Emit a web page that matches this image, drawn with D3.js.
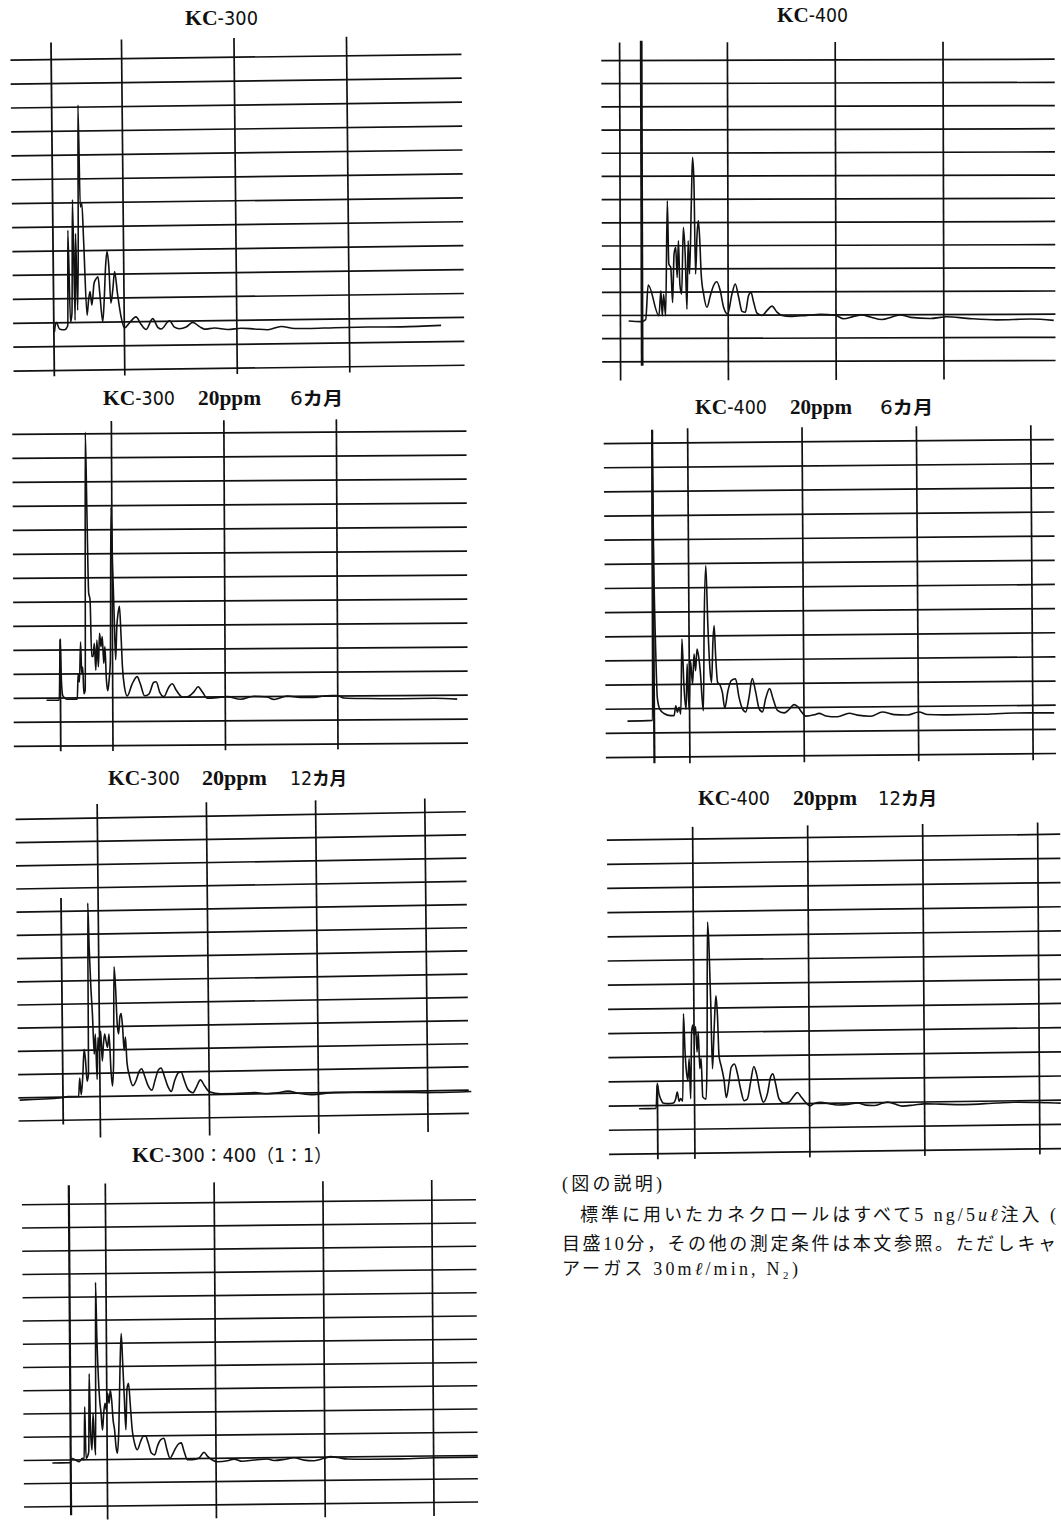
<!DOCTYPE html>
<html><head><meta charset="utf-8">
<script src="https://cdn.jsdelivr.net/npm/d3@7"></script>
<style>html,body{margin:0;padding:0;background:#fff}svg{display:block}</style>
</head><body>
<svg id="chart" width="1061" height="1520"></svg>
<script>
// ---------------- DATA ----------------
const gridDivisions = d3.range(0, 14);          // chart-paper divisions (0 = bottom line)
const gridMinutes = [0, 10, 20, 30];            // chart-paper time lines (10 min per division)
const injectMin = [3.78, 2.05, 5.4, -3.06, -3.35, -3.18, -3.31];   // injection mark (min)
const injectTop = [13.7, 13.83, 4.42, 13.53, 9.56, 2.8, 13.79];     // injection signal height (div)

const titleParts = [
  ["KC-300"],
  ["KC-400"],
  ["KC-300", "20ppm", "6カ月"],
  ["KC-400", "20ppm", "6カ月"],
  ["KC-300", "20ppm", "12カ月"],
  ["KC-400", "20ppm", "12カ月"],
  ["KC-300：400（1：1）"]
];

// traces: [minutes, divisions]
const traceKC300 = [[3.83,1.6],[3.99,2.0],[4.28,1.72],[4.72,1.68],[5.02,1.86],[5.11,5.84],[5.26,2.0],[5.4,2.35],[5.55,7.12],[5.67,2.07],[5.79,5.7],[5.91,2.49],[6.03,5.7],[6.12,11.07],[6.23,6.81],[6.38,6.95],[6.5,5.42],[6.74,2.28],[6.89,2.91],[7.03,3.26],[7.18,2.7],[7.39,3.6],[7.6,3.81],[7.75,3.88],[7.89,3.19],[8.13,2.0],[8.28,2.91],[8.43,4.3],[8.57,4.93],[8.72,4.3],[8.87,2.77],[9.05,3.32],[9.23,4.09],[9.46,3.18],[9.76,2.2],[10.06,1.72],[10.5,1.93],[11.09,2.18],[11.54,1.86],[11.98,1.65],[12.57,2.1],[13.02,1.73],[13.32,1.66],[14.06,2.0],[14.5,1.73],[14.94,1.66],[15.54,1.73],[16.13,1.92],[16.72,1.74],[17.17,1.63],[18.06,1.67],[19.24,1.6],[20.43,1.65],[21.61,1.61],[22.8,1.57],[23.98,1.7],[25.17,1.61],[26.35,1.6],[28.72,1.62],[31.69,1.63],[34.65,1.62],[38.2,1.66]];

const traceKC400 = [[0.81,1.74],[1.95,1.71],[2.39,1.8],[2.63,3.29],[3.62,1.96],[3.81,3.04],[3.93,1.96],[4.06,2.89],[4.24,1.96],[4.43,6.92],[4.55,4.19],[4.73,4.04],[4.89,2.53],[5.04,4.62],[5.2,4.91],[5.32,3.61],[5.45,5.19],[5.57,3.32],[5.73,2.89],[5.91,5.77],[6.07,4.62],[6.22,2.24],[6.35,5.19],[6.47,3.76],[6.66,6.92],[6.78,8.79],[6.9,7.78],[7.03,3.76],[7.18,5.48],[7.3,6.06],[7.43,5.19],[7.55,3.76],[7.77,2.89],[8.08,2.32],[8.39,2.82],[8.69,3.25],[9.0,3.42],[9.31,3.04],[9.62,2.32],[9.99,2.03],[10.4,2.89],[10.71,3.32],[11.02,2.75],[11.33,2.14],[11.63,2.1],[11.94,2.82],[12.16,2.96],[12.41,2.53],[12.72,2.06],[13.18,1.96],[13.64,2.17],[14.11,2.36],[14.57,2.1],[15.03,1.96],[15.81,1.91],[17.35,1.96],[18.59,2.0],[19.98,1.96],[20.75,1.81],[21.68,1.91],[22.45,1.97],[23.23,1.88],[24.31,1.77],[25.24,1.88],[26.01,1.97],[26.94,1.86],[28.8,1.81],[30.34,1.88],[32.2,1.81],[34.98,1.74],[38.07,1.77],[40.24,1.71]];

const trace300_6m = [[4.16,1.89],[5.29,1.89],[5.4,4.45],[5.49,2.7],[5.61,2.07],[6.0,1.93],[6.89,1.93],[6.98,2.98],[7.09,2.64],[7.21,4.31],[7.3,2.98],[7.39,3.26],[7.48,2.15],[7.6,2.29],[7.72,13.05],[7.83,9.7],[7.95,6.35],[8.07,6.07],[8.19,3.7],[8.31,3.7],[8.43,4.25],[8.55,3.13],[8.66,4.39],[8.78,3.27],[8.9,4.67],[9.02,4.11],[9.14,4.53],[9.26,3.41],[9.37,4.11],[9.49,2.72],[9.61,2.27],[9.73,2.72],[9.85,3.56],[9.97,9.92],[10.09,7.47],[10.2,5.51],[10.32,3.56],[10.44,4.95],[10.56,5.51],[10.68,5.79],[10.8,4.67],[10.92,3.27],[11.09,2.43],[11.33,2.05],[11.77,2.54],[12.22,2.85],[12.5,2.55],[12.87,2.05],[13.26,2.12],[13.7,2.61],[13.91,2.63],[14.23,2.19],[14.59,2.01],[15.03,2.4],[15.33,2.54],[15.71,2.26],[16.22,1.99],[16.66,1.99],[17.26,2.2],[17.64,2.41],[18.0,2.2],[18.44,1.93],[19.33,1.95],[20.22,1.99],[21.4,1.88],[22.59,2.0],[23.77,1.96],[24.37,1.86],[25.55,2.0],[26.74,1.93],[27.92,1.93],[29.1,2.0],[29.99,2.0],[30.59,1.9],[32.66,1.87],[35.63,1.85],[38.59,1.86],[40.66,1.82]];

const trace400_6m = [[-5.39,1.48],[-3.2,1.5],[-3.08,13.2],[-3.0,8.0],[-2.88,4.36],[-2.77,2.44],[-2.56,1.96],[-2.19,1.78],[-1.6,1.69],[-1.31,1.69],[-1.16,2.1],[-1.02,1.83],[-0.87,2.03],[-0.73,1.75],[-0.58,4.86],[-0.44,2.99],[-0.26,1.95],[-0.14,3.82],[0.0,1.95],[0.15,3.96],[0.32,2.99],[0.47,4.23],[0.59,3.54],[0.73,4.44],[0.88,4.09],[1.02,3.4],[1.14,2.43],[1.25,1.88],[1.37,5.47],[1.55,7.89],[1.69,5.47],[1.84,3.68],[1.98,3.05],[2.13,4.78],[2.24,5.4],[2.36,4.09],[2.51,3.05],[2.71,2.95],[2.92,2.63],[3.12,1.98],[3.41,2.7],[3.7,3.12],[4.08,3.19],[4.37,2.43],[4.66,1.95],[4.95,1.81],[5.25,2.43],[5.54,3.19],[5.83,2.64],[6.12,1.95],[6.41,1.81],[6.7,2.36],[7.05,2.77],[7.34,2.36],[7.72,1.87],[8.31,1.76],[8.74,1.9],[9.18,2.1],[9.53,2.0],[9.82,1.8],[10.2,1.62],[10.93,1.67],[11.36,1.73],[11.95,1.62],[12.97,1.58],[13.99,1.72],[14.71,1.64],[15.88,1.59],[16.9,1.76],[17.92,1.65],[19.09,1.63],[20.1,1.75],[20.83,1.64],[22.58,1.62],[25.5,1.63],[28.41,1.67],[31.91,1.66]];

const trace300_12m = [[-7.32,0.88],[-3.44,0.95],[-2.9,1.0],[-1.92,0.99],[-1.8,1.79],[-1.68,1.06],[-1.52,1.86],[-1.37,3.02],[-1.25,2.51],[-1.13,1.64],[-1.0,1.93],[-0.91,9.32],[-0.82,7.44],[-0.7,5.7],[-0.58,4.54],[-0.45,2.8],[-0.33,3.67],[-0.21,1.71],[-0.09,3.52],[0.03,2.94],[0.16,3.8],[0.28,2.5],[0.4,3.22],[0.52,3.66],[0.64,3.37],[0.77,3.08],[0.92,3.66],[1.07,2.07],[1.19,1.42],[1.32,2.51],[1.44,6.56],[1.56,5.69],[1.68,4.1],[1.8,3.66],[1.93,4.39],[2.05,4.53],[2.17,3.95],[2.29,2.94],[2.42,3.52],[2.54,2.43],[2.75,1.85],[3.06,1.42],[3.36,1.64],[3.66,2.04],[3.88,2.14],[4.12,1.86],[4.43,1.43],[4.8,1.21],[5.1,1.65],[5.41,2.08],[5.65,2.16],[5.96,1.79],[6.26,1.36],[6.57,1.14],[6.87,1.58],[7.24,1.94],[7.48,1.97],[7.79,1.58],[8.09,1.22],[8.55,1.07],[8.85,1.29],[9.25,1.62],[9.62,1.36],[10.07,1.1],[11.14,1.0],[12.37,1.0],[14.2,1.03],[15.42,0.97],[16.33,1.0],[17.25,1.07],[18.17,0.97],[19.39,0.9],[21.52,0.97],[24.57,0.95],[27.62,0.93],[30.68,0.9],[34.04,0.92]];

const trace400_12m = [[-4.78,1.85],[-3.3,1.86],[-3.19,2.9],[-3.04,2.45],[-2.9,2.25],[-2.69,2.08],[-2.26,2.05],[-1.8,2.07],[-1.59,2.25],[-1.45,2.52],[-1.3,2.14],[-1.16,2.25],[-0.98,2.14],[-0.87,5.76],[-0.75,4.17],[-0.64,3.35],[-0.52,3.0],[-0.4,3.9],[-0.29,2.24],[-0.17,5.0],[-0.06,5.28],[0.06,4.86],[0.18,5.21],[0.29,4.17],[0.41,5.0],[0.52,3.48],[0.64,3.9],[0.76,2.31],[1.05,2.21],[1.16,4.03],[1.28,9.54],[1.39,8.57],[1.51,6.23],[1.62,3.47],[1.74,4.55],[1.86,5.79],[1.97,6.48],[2.09,5.65],[2.2,4.0],[2.38,3.58],[2.61,3.03],[2.81,2.27],[3.05,2.89],[3.25,3.51],[3.54,3.65],[3.77,3.3],[4.06,2.61],[4.35,2.13],[4.64,2.2],[4.93,2.89],[5.22,3.54],[5.45,3.23],[5.74,2.48],[6.03,2.06],[6.38,2.4],[6.67,3.09],[6.87,3.23],[7.1,2.81],[7.39,2.19],[7.83,2.01],[8.26,2.05],[8.7,2.31],[8.99,2.44],[9.34,2.24],[9.71,2.02],[10.09,1.88],[10.44,1.98],[11.02,2.02],[11.74,1.96],[12.47,1.9],[13.34,1.92],[14.21,1.98],[14.93,1.88],[15.66,1.86],[16.38,1.95],[16.81,2.0],[17.39,1.92],[18.12,1.82],[19.13,1.86],[20.0,1.9],[21.45,1.88],[23.48,1.85],[26.38,1.9],[27.83,1.92],[30.73,1.88],[31.88,1.86]];

const traceMix = [[-5.0,1.86],[-3.37,1.86],[-3.19,2.04],[-2.85,1.97],[-2.54,1.9],[-2.24,2.04],[-2.08,1.97],[-1.99,4.26],[-1.9,2.04],[-1.72,2.18],[-1.65,2.33],[-1.56,5.68],[-1.47,3.25],[-1.35,2.4],[-1.23,3.97],[-1.1,2.68],[-1.01,2.18],[-0.92,9.61],[-0.83,7.25],[-0.74,5.82],[-0.61,4.54],[-0.49,3.97],[-0.37,3.25],[-0.25,3.97],[-0.12,4.4],[0.0,4.11],[0.12,4.83],[0.25,4.4],[0.37,4.97],[0.49,4.54],[0.61,3.68],[0.74,3.25],[0.86,2.54],[0.98,2.25],[1.13,3.25],[1.29,6.11],[1.41,7.39],[1.53,6.11],[1.65,4.68],[1.78,3.25],[1.9,4.97],[2.05,5.25],[2.21,4.25],[2.36,3.25],[2.57,2.67],[2.82,2.39],[3.12,2.74],[3.37,2.96],[3.58,2.98],[3.83,2.67],[4.11,2.24],[4.41,2.16],[4.66,2.52],[4.96,2.8],[5.27,2.87],[5.51,2.44],[5.82,2.0],[6.04,2.16],[6.34,2.44],[6.65,2.63],[6.86,2.66],[7.11,2.3],[7.41,1.94],[7.87,1.93],[8.49,2.0],[8.95,2.25],[9.25,2.08],[9.71,1.91],[10.17,1.83],[11.09,1.87],[11.7,1.94],[12.47,1.84],[13.54,1.89],[14.77,1.93],[15.38,1.86],[16.3,1.9],[17.22,1.97],[18.14,1.86],[19.06,1.83],[19.98,1.93],[20.59,2.0],[21.2,1.96],[22.12,1.89],[24.0,1.87],[27.0,1.87],[30.1,1.9],[34.1,1.91]];

const traces = [traceKC300, traceKC400, trace300_6m, trace400_6m, trace300_12m, trace400_12m, traceMix];

const notes = [
  "(図の説明)",
  "標準に用いたカネクロールはすべて5 ng/5uℓ注入 (",
  "目盛10分，その他の測定条件は本文参照。ただしキャ",
  "アーガス 30mℓ/min, N₂)"
];

// ---------------- LAYOUT ----------------
const panels = [
  {x0:10.2,  ppm:11.25, yb:367.7,  ysp:23.92, hT:-0.013, vT:0.010, cx:237, cy:212,  paper:[0.16,40.25], vTop:13.78, vBot:-0.26, injBot:-0.26, injW:1.8, tx:[185], ty:25, tw:[73]},
  {x0:619.6, ppm:10.78, yb:360.7,  ysp:23.18, hT:-0.003, vT:0.003, cx:830, cy:210,  paper:[-1.66,40.4], vTop:13.75, vBot:-0.83, injBot:-0.19, injW:2.8, tx:[777], ty:22, tw:[71]},
  {x0:-0.8,  ppm:11.25, yb:744.3,  ysp:24.0,  hT:-0.007, vT:0.005, cx:240, cy:588,  paper:[1.23,41.6],  vTop:13.51, vBot:-0.24, injBot:-0.24, injW:1.8, tx:[103,198,290], ty:405, tw:[72,63,53]},
  {x0:688.3, ppm:11.44, yb:755,    ysp:24.15, hT:-0.009, vT:0.007, cx:830, cy:598,  paper:[-7.3,32.05], vTop:13.58, vBot:-0.29, injBot:-0.28, injW:2.2, tx:[695,790,880], ty:414, tw:[72,62,53]},
  {x0:98.3,  ppm:10.92, yb:1116.7, ysp:23.2,  hT:-0.017, vT:0.010, cx:242, cy:966,  paper:[-7.44,33.8], vTop:13.58, vBot:-0.79, injBot:-0.2,  injW:1.8, tx:[108,202,290], ty:785, tw:[72,65,57]},
  {x0:693.3, ppm:11.5,  ysp:24.18, yb:1151,   hT:-0.013, vT:0.007, cx:834, cy:994,  paper:[-7.42,32.0], vTop:13.48, vBot:-0.25, injBot:-0.25, injW:1.8, tx:[698,793,878], ty:805, tw:[72,64,59]},
  {x0:106,   ppm:10.88, yb:1504,   ysp:23.25, hT:-0.011, vT:0.007, cx:250, cy:1353, paper:[-7.63,34.1], vTop:13.85, vBot:-0.6,  injBot:-0.4,  injW:2.2, tx:[132], ty:1162, tw:[200]}
];
const noteLayout = [
  {x:562, y:1190, w:100},
  {x:580, y:1221, w:476},
  {x:562, y:1250, w:494},
  {x:562, y:1275, w:236}
];

const INK = "#111";
const svg = d3.select("#chart");

function titleRuns(str) {
  if (str === "20ppm") return [{t: str, k: "serifB"}];
  const runs = [];
  str.replace(/KC|[\x00-\x7F]+|[^\x00-\x7F]+/g, m => {
    runs.push({t: m, k: m === "KC" ? "kc" : (/^[\x00-\x7F]+$/.test(m) ? "narrow" : (/[カ月]/.test(m) ? "cjkB" : "cjk"))});
    return m;
  });
  return runs;
}
const runStyle = {
  kc:     {f: "'Liberation Serif','DejaVu Serif',serif", s: 22, w: "bold"},
  serifB: {f: "'Liberation Serif','DejaVu Serif',serif", s: 21, w: "bold"},
  narrow: {f: "'Liberation Sans Narrow','DejaVu Sans Condensed','Liberation Sans',sans-serif", s: 20, w: "normal"},
  cjkB:   {f: "'Noto Sans CJK JP',sans-serif", s: 18, w: "bold"},
  cjk:    {f: "'Noto Sans CJK JP',sans-serif", s: 18, w: "normal"}
};

panels.forEach((p, i) => {
  const x = d3.scaleLinear().domain([0, 10]).range([p.x0, p.x0 + 10 * p.ppm]);
  const y = d3.scaleLinear().domain([0, 1]).range([p.yb, p.yb - p.ysp]);
  const g = svg.append("g")
    .attr("transform", `matrix(1,${p.hT},${p.vT},1,${-p.vT * p.cy},${-p.hT * p.cx})`);

  // horizontal chart-paper lines (axis with full-width ticks)
  const xl = x(p.paper[0]), xr = x(p.paper[1]);
  g.append("g")
    .attr("transform", `translate(${xl},0)`)
    .call(d3.axisLeft(y).tickValues(gridDivisions).tickSize(-(xr - xl)).tickFormat(""))
    .call(a => a.select(".domain").remove())
    .call(a => a.selectAll(".tick line").attr("stroke", INK).attr("stroke-width", 1.7));

  // vertical time lines (axis with full-height ticks)
  const mins = gridMinutes.filter(m => m > p.paper[0] && m < p.paper[1]);
  g.append("g")
    .attr("transform", `translate(0,${y(p.vBot)})`)
    .call(d3.axisBottom(x).tickValues(mins).tickSize(-(y(p.vBot) - y(p.vTop))).tickFormat(""))
    .call(a => a.select(".domain").remove())
    .call(a => a.selectAll(".tick line").attr("stroke", INK).attr("stroke-width", 1.7));

  // injection mark
  g.append("line")
    .attr("x1", x(injectMin[i])).attr("x2", x(injectMin[i]))
    .attr("y1", y(p.injBot)).attr("y2", y(injectTop[i]))
    .attr("stroke", INK).attr("stroke-width", p.injW);

  // chromatogram trace
  g.append("path").datum(traces[i])
    .attr("fill", "none").attr("stroke", INK).attr("stroke-width", 1.6)
    .attr("stroke-linejoin", "round")
    .attr("d", d3.line().x(d => x(d[0])).y(d => y(d[1])).curve(d3.curveMonotoneX));

  // title
  titleParts[i].forEach((part, j) => {
    const t = svg.append("text")
      .attr("x", p.tx[j]).attr("y", p.ty)
      .attr("fill", INK)
      .attr("textLength", p.tw[j]).attr("lengthAdjust", "spacingAndGlyphs");
    titleRuns(part).forEach(r => {
      const st = runStyle[r.k];
      t.append("tspan").text(r.t)
        .attr("font-family", st.f).attr("font-size", st.s).attr("font-weight", st.w);
    });
  });
});

// explanation text
notes.forEach((s, i) => {
  const L = noteLayout[i];
  const t = svg.append("text")
    .attr("x", L.x).attr("y", L.y)
    .attr("fill", INK)
    .attr("font-family", "'Liberation Serif','Noto Sans CJK JP',serif")
    .attr("font-size", 18)
    .attr("textLength", L.w).attr("lengthAdjust", "spacing")
    .style("white-space", "pre");
  s.split(/(uℓ|ℓ)/).forEach(seg => {
    if (!seg) return;
    const ts = t.append("tspan").text(seg);
    if (/ℓ/.test(seg)) ts.attr("font-style", "italic");
  });
});
</script>
</body></html>
